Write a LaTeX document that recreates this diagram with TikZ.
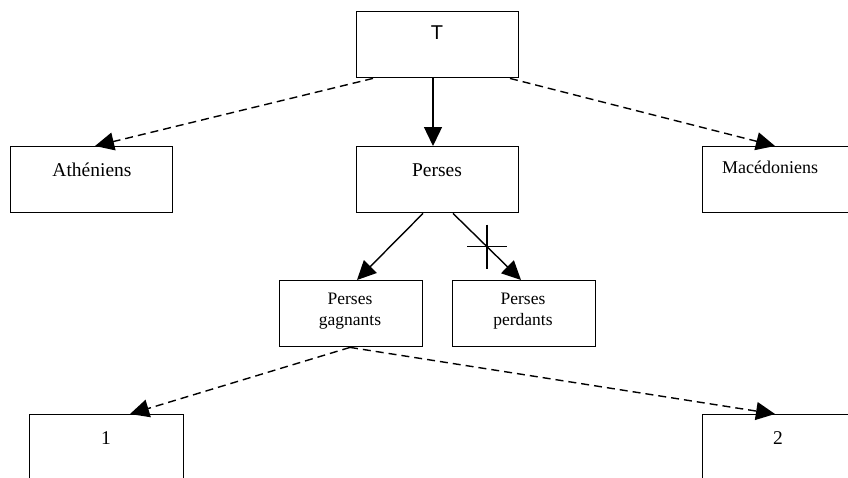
\documentclass[tikz,border=0pt]{standalone}
\usepackage{fontspec}
\setmainfont{Liberation Serif}
\newfontfamily\arialfont{Liberation Sans}
\usetikzlibrary{arrows.meta,calc}
\tikzset{
  box/.style={draw,line width=1.4pt,rectangle,inner sep=0pt,anchor=north west},
  lbl/.style={inner sep=0pt,anchor=center},
  conn/.style={line width=1.4pt,-{Triangle[length=19pt,width=18pt]}},
  dconn/.style={conn,dash pattern=on 8pt off 5pt},
}
\begin{document}
\begin{tikzpicture}[x=1pt,y=-1pt]
\useasboundingbox (0,0) rectangle (848,477);
\clip (0,0) rectangle (848,477);
\fill[white] (0,0) rectangle (848,477);
% boxes
\node[box,minimum width=162pt,minimum height=66pt] (T) at (356,11) {};
\node[box,minimum width=162pt,minimum height=66pt] (A) at (10,146) {};
\node[box,minimum width=162pt,minimum height=66pt] (P) at (356,146) {};
\node[box,minimum width=170pt,minimum height=66pt] (M) at (702,146) {};
\node[box,minimum width=143pt,minimum height=66pt] (G) at (279,280) {};
\node[box,minimum width=143pt,minimum height=66pt] (D) at (452,280) {};
\node[box,minimum width=154pt,minimum height=80pt] (B1) at (29,414) {};
\node[box,minimum width=170pt,minimum height=80pt] (B2) at (702,414) {};
% texts
\node[lbl,font=\arialfont\fontsize{20}{22}\selectfont] (tT) at (437,33) {T};
\node[lbl,font=\fontsize{19.5}{21}\selectfont] (tA) at (92,170) {Athéniens};
\node[lbl,font=\fontsize{19.5}{21}\selectfont] (tP) at (437,170) {Perses};
\node[lbl,font=\fontsize{18}{19}\selectfont] (tM) at (770,167) {Macédoniens};
\node[lbl,font=\fontsize{17.5}{21}\selectfont,align=center] (tG) at (350,311) {Perses\\gagnants};
\node[lbl,font=\fontsize{17.5}{21}\selectfont,align=center] (tD) at (523,311) {Perses\\perdants};
\node[lbl,font=\fontsize{19.5}{21}\selectfont] (t1) at (106,438) {1};
\node[lbl,font=\fontsize{19.5}{21}\selectfont] (t2) at (778,438) {2};
% connectors
\draw[dconn] ($(T.south west)+(17,0)$) -- ($(A.north west)+(85,0)$);
\draw[conn] ($(T.south west)+(77,0)$) -- ($(P.north west)+(77,0)$);
\draw[dconn] ($(T.south west)+(154,0)$) -- ($(M.north west)+(73,0)$);
\draw[conn] ($(P.south west)+(67,0)$) -- ($(G.north west)+(78,0)$);
\draw[conn] ($(P.south west)+(97,0)$) -- coordinate[pos=0.5] (X) ($(D.north west)+(69,0)$);
\draw[line width=1.4pt] ($(X)+(-20,0)$) -- ($(X)+(20,0)$) ($(X)+(0,-22)$) -- ($(X)+(0,22)$);
\draw[dconn] ($(G.south west)+(71,0)$) -- ($(B1.north west)+(101,0)$);
\draw[dconn] ($(G.south west)+(71,0)$) -- ($(B2.north west)+(73,0)$);
\end{tikzpicture}
\end{document}
